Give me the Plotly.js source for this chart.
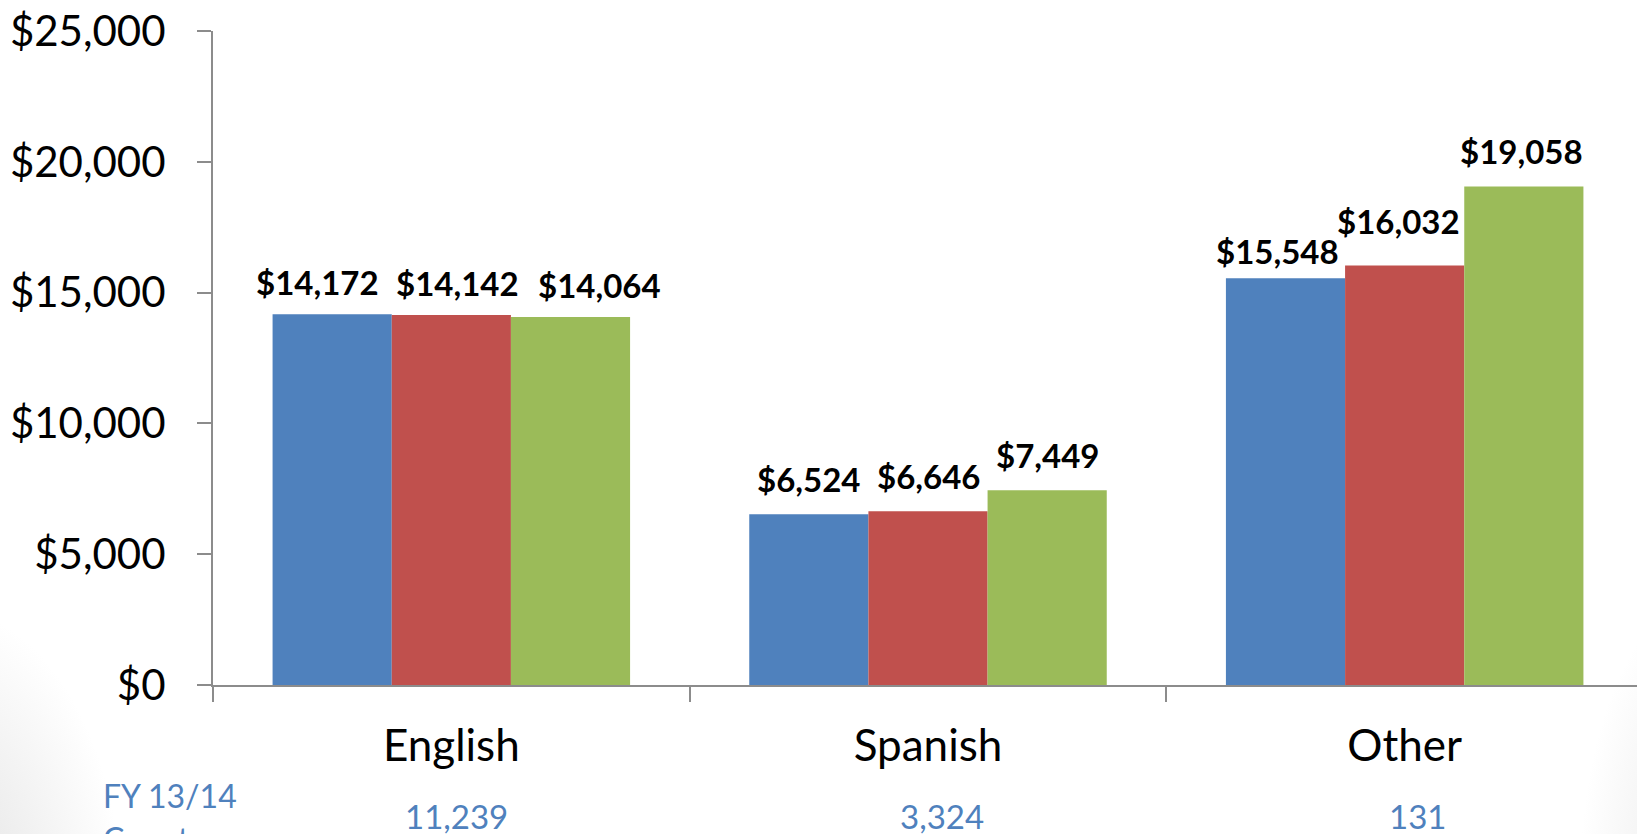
<!DOCTYPE html>
<html><head><meta charset="utf-8">
<script src="https://cdn.plot.ly/plotly-3.0.1.min.js"></script>
<style>
html,body{margin:0;padding:0;overflow:hidden;width:1637px;height:834px;
background:
radial-gradient(ellipse 260px 420px at -60px 900px, rgba(200,200,200,0.55), rgba(255,255,255,0) 70%),
radial-gradient(ellipse 200px 420px at 1720px 880px, rgba(200,200,200,0.45), rgba(255,255,255,0) 70%),
#ffffff;}
#chart{width:1643px;height:834px;}
</style></head>
<body><div id="chart"></div>
<script>
const categories = ["English", "Spanish", "Other"];
const seriesA = [14172, 6524, 15548];
const seriesB = [14142, 6646, 16032];
const seriesC = [14064, 7449, 19058];
const counts = ["11,239", "3,324", "131"];
const countTitle = "FY 13/14";
const countTitle2 = "Count";
const colors = ["#4F81BD", "#C0504D", "#9BBB59"];
const seriesNames = ["Series A", "Series B", "Series C"];

const FONT = "Lato, 'Open Sans', sans-serif";
const BARGAP = 0.25;
const allSeries = [seriesA, seriesB, seriesC];

const traces = allSeries.map((vals, i) => ({
  type: "bar", x: categories, y: vals, name: seriesNames[i],
  marker: {color: colors[i], line: {width: 0}},
  hoverinfo: "skip"
}));

// Data labels (nudged apart where they would collide, as in the source chart)
const labelDx = [[-15, 0, -8], [6, 0, -6], [29, 0, -2]];
const labelDy = [[-3, 0, -8], [-3, 0, 10], [-3, 0, 0]];
const annotations = [];
const slot = (1 - BARGAP) / allSeries.length;
allSeries.forEach((vals, s) => {
  vals.forEach((v, c) => {
    annotations.push({
      x: c + (s - (allSeries.length - 1) / 2) * slot, xref: "x",
      y: v, yref: "y", yanchor: "middle",
      yshift: 35 + labelDy[s][c], xshift: labelDx[s][c],
      text: "$" + v.toLocaleString("en-US"), showarrow: false,
      font: {family: FONT, size: 33, color: "#000", weight: "bold"}
    });
  });
});

categories.forEach((c, i) => annotations.push({
  x: c, xref: "x", y: 0, yref: "paper", yanchor: "middle", yshift: -131, xshift: [5, 14, 13][i],
  text: counts[i], showarrow: false,
  font: {family: FONT, size: 33, color: "#4F81BD"}
}));
annotations.push({
  x: (101 - 213) / 1430, xref: "paper", y: 0, yref: "paper", xanchor: "left", yanchor: "middle",
  text: countTitle, showarrow: false, align: "left", yshift: -110,
  font: {family: FONT, size: 32, color: "#4F81BD"}
});
annotations.push({
  x: (101 - 213) / 1430, xref: "paper", y: 0, yref: "paper", xanchor: "left", yanchor: "middle",
  text: countTitle2, showarrow: false, align: "left", yshift: -153,
  font: {family: FONT, size: 32, color: "#4F81BD"}
});

const layout = {
  width: 1643, height: 834,
  margin: {l: 213, r: 0, t: 31, b: 149, pad: 0},
  paper_bgcolor: "rgba(0,0,0,0)", plot_bgcolor: "rgba(0,0,0,0)",
  showlegend: false, barmode: "group", bargap: BARGAP, bargroupgap: 0,
  separators: ".,",
  font: {family: FONT, color: "#000"},
  xaxis: {
    type: "category", range: [-0.5, 2.5], showline: true, linecolor: "#8C8C8C", linewidth: 2,
    ticks: "outside", tickson: "boundaries", ticklen: 15, tickcolor: "#8C8C8C", tickwidth: 2,
    tickfont: {family: FONT, size: 44, color: "#000"}, ticklabelstandoff: 21, tickangle: 0,
    showgrid: false, zeroline: false, fixedrange: true
  },
  yaxis: {
    range: [0, 25000], dtick: 5000, tick0: 0, tickprefix: "$", tickformat: ",d",
    showline: true, linecolor: "#8C8C8C", linewidth: 2,
    ticks: "outside", ticklen: 14, tickcolor: "#8C8C8C", tickwidth: 2,
    tickfont: {family: FONT, size: 42, color: "#000"}, ticklabelstandoff: 23,
    showgrid: false, zeroline: false, fixedrange: true
  },
  annotations: annotations
};
Plotly.newPlot("chart", traces, layout, {displayModeBar: false, staticPlot: true});
</script></body></html>
